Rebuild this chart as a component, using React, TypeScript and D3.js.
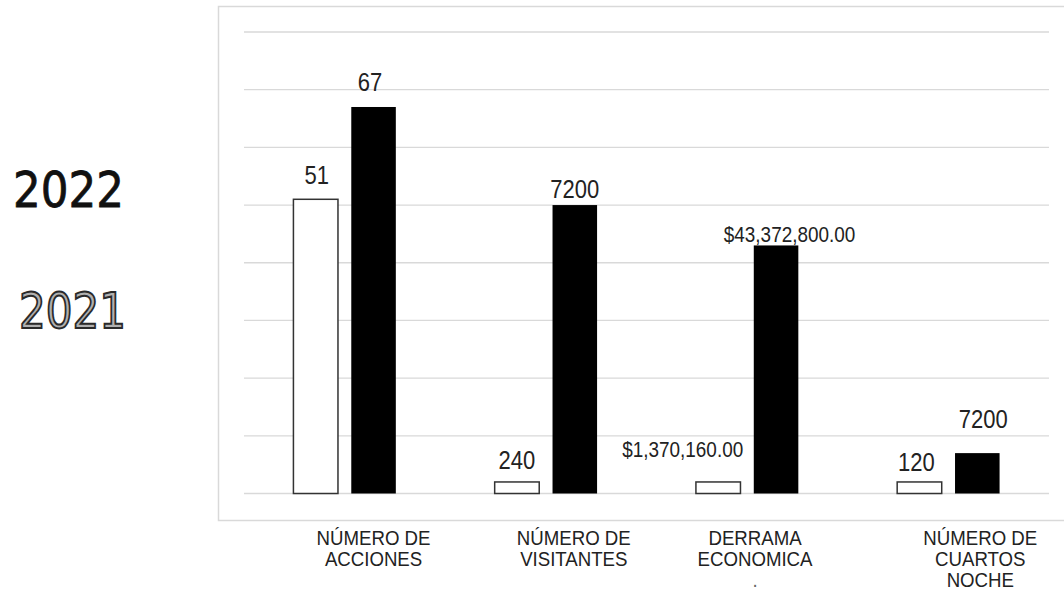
import { useEffect, useRef } from "react";
import * as d3 from "d3";

// categories (lines of each x label)
const categories = [
  ["NÚMERO DE", "ACCIONES"],
  ["NÚMERO DE", "VISITANTES"],
  ["DERRAMA", "ECONOMICA", "."],
  ["NÚMERO DE", "CUARTOS", "NOCHE"],
];
const seriesNames = ["2021", "2022"];
// bar heights as drawn, in grid units (grid every 10)
const bars2021 = [51, 2, 2, 2];
const bars2022 = [67, 50, 43, 7];
// the value labels printed over the bars
const labels2021 = ["51", "240", "$1,370,160.00", "120"];
const labels2022 = ["67", "7200", "$43,372,800.00", "7200"];
const yTicks = [0, 10, 20, 30, 40, 50, 60, 70, 80];

// hand placed label nudges from the original slide
const catDx = [0, -1, -21, 3];
const nudge2021 = [[1, -15.5], [0, -13], [-35.5, -25], [-3, -11]];
const nudge2022 = [[-3.5, -15.5], [0, -7], [13.5, -3.5], [6, -25]];

const W = 1064;
const H = 591;
const font = "'Liberation Sans', Arial, sans-serif";

const App = () => {
  const svgRef = useRef(null);

  useEffect(() => {
    const svg = d3.select(svgRef.current);
    svg.selectAll("*").remove();

    const plot = { left: 244, right: 1049, top: 32, bottom: 493.5 };
    const frame = { x: 218.5, y: 6, bottom: 520 };

    const x = d3
      .scaleBand()
      .domain(categories.map((d, i) => String(i)))
      .range([plot.left, plot.right]);
    const pairW = 102.4;
    const xs = d3
      .scaleBand()
      .domain(seriesNames)
      .range([(x.bandwidth() - pairW) / 2, (x.bandwidth() + pairW) / 2])
      .paddingInner(0.23);
    const y = d3.scaleLinear().domain([0, 80]).range([plot.bottom, plot.top]);

    // frame
    svg
      .append("path")
      .attr(
        "d",
        `M${W + 2},${frame.y + 0.5} H${frame.x} V${frame.bottom + 0.5} H${W + 2}`
      )
      .attr("fill", "none")
      .attr("stroke", "#d9d9d9")
      .attr("stroke-width", 1.5);

    // gridlines
    svg
      .append("g")
      .selectAll("line")
      .data(yTicks)
      .enter()
      .append("line")
      .attr("x1", plot.left)
      .attr("x2", plot.right)
      .attr("y1", (d) => y(d))
      .attr("y2", (d) => y(d))
      .attr("stroke", "#d9d9d9")
      .attr("stroke-width", 1.3);

    const series = [
      { name: "2021", vals: bars2021, labels: labels2021, nudge: nudge2021, fill: "#fff", stroke: "#333" },
      { name: "2022", vals: bars2022, labels: labels2022, nudge: nudge2022, fill: "#000", stroke: "none" },
    ];

    series.forEach((s) => {
      const g = svg.append("g");
      g.selectAll("rect")
        .data(s.vals)
        .enter()
        .append("rect")
        .attr("x", (d, i) => x(String(i)) + xs(s.name))
        .attr("y", (d) => y(d))
        .attr("width", xs.bandwidth())
        .attr("height", (d) => y(0) - y(d))
        .attr("fill", s.fill)
        .attr("stroke", s.stroke)
        .attr("stroke-width", 1.5);

      g.selectAll("text")
        .data(s.labels)
        .enter()
        .append("text")
        .attr("transform", (d, i) => {
          const cx = x(String(i)) + xs(s.name) + xs.bandwidth() / 2 + s.nudge[i][0];
          const cy = y(s.vals[i]) + s.nudge[i][1];
          return `translate(${cx},${cy}) scale(0.88,1)`;
        })
        .attr("text-anchor", "middle")
        .attr("font-family", font)
        .attr("font-size", (d) => (d.startsWith("$") ? 21.5 : 25))
        .attr("fill", "#222")
        .text((d) => d);
    });

    // category labels
    const cat = svg.append("g");
    categories.forEach((lines, i) => {
      const cx = x(String(i)) + xs("2022") + xs.bandwidth() / 2 + catDx[i];
      lines.forEach((line, j) => {
        cat
          .append("text")
          .attr("transform", `translate(${cx},${544.5 + j * 21.3}) scale(0.91,1)`)
          .attr("text-anchor", "middle")
          .attr("font-family", font)
          .attr("font-size", 20.5)
          .attr("fill", line === "." ? "#666" : "#222")
          .text(line);
      });
    });

    // legend words at left
    const leg = svg.append("g");
    leg
      .append("text")
      .attr("x", 13)
      .attr("y", 207)
      .attr("textLength", 111)
      .attr("lengthAdjust", "spacingAndGlyphs")
      .attr("font-family", "'DejaVu Sans', sans-serif")
      .attr("font-size", 49)
      .attr("fill", "#111")
      .attr("stroke", "#111")
      .attr("stroke-width", 0.8)
      .text("2022");
    leg
      .append("text")
      .attr("x", 19)
      .attr("y", 328)
      .attr("textLength", 107)
      .attr("lengthAdjust", "spacingAndGlyphs")
      .attr("font-family", "'DejaVu Sans', sans-serif")
      .attr("font-size", 49)
      .attr("fill", "#b0b0b0")
      .attr("stroke", "#2a2a2a")
      .attr("stroke-width", 2)
      .text("2021");
  }, []);

  return (
    <svg
      ref={svgRef}
      width={W}
      height={H}
      style={{ position: "absolute", left: 0, top: 0, background: "#fff" }}
    ></svg>
  );
};

export default App;
